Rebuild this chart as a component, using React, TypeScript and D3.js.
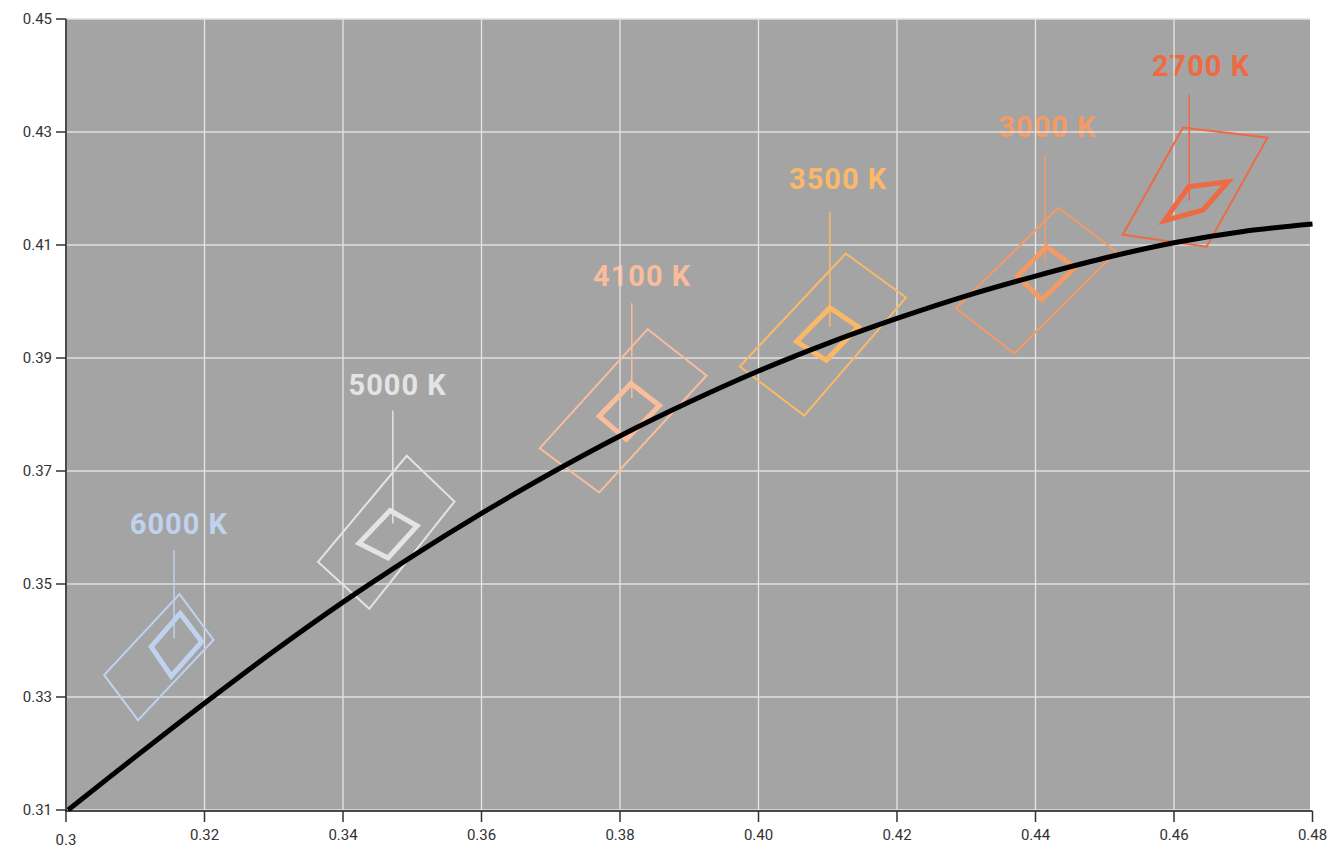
import React from 'react';
import * as d3 from 'd3';

// CCT bins (outer quadrangle + inner small quadrangle), CIE 1931 x/y
const cctLabels = ['6000 K', '5000 K', '4100 K', '3500 K', '3000 K', '2700 K'];
const cctColors = ['#bfd2ee', '#e4e4e4', '#f9bd9c', '#fbb968', '#f49a64', '#ee6a43'];

const outerQuads: [number, number][][] = [
    [[0.3164, 0.3482], [0.3213, 0.3401], [0.3104, 0.3259], [0.3055, 0.3339]],
    [[0.3492, 0.3727], [0.3561, 0.3646], [0.3438, 0.3456], [0.3364, 0.3539]],
    [[0.3840, 0.3951], [0.3925, 0.3869], [0.3770, 0.3662], [0.3684, 0.3740]],
    [[0.4126, 0.4085], [0.4213, 0.4007], [0.4066, 0.3798], [0.3973, 0.3885]],
    [[0.4433, 0.4166], [0.4517, 0.4088], [0.4369, 0.3908], [0.4285, 0.3988]],
    [[0.4613, 0.4308], [0.4735, 0.4290], [0.4647, 0.4097], [0.4526, 0.4118]],
];

const innerQuads: [number, number][][] = [
    [[0.3165, 0.3448], [0.3196, 0.3398], [0.3152, 0.3337], [0.3123, 0.3389]],
    [[0.3468, 0.3630], [0.3507, 0.3603], [0.3465, 0.3546], [0.3423, 0.3572]],
    [[0.3816, 0.3855], [0.3857, 0.3816], [0.3809, 0.3756], [0.3770, 0.3797]],
    [[0.4103, 0.3989], [0.4144, 0.3955], [0.4098, 0.3896], [0.4055, 0.3929]],
    [[0.4416, 0.4097], [0.4457, 0.4060], [0.4409, 0.4003], [0.4374, 0.4045]],
    [[0.4621, 0.4203], [0.4678, 0.4212], [0.4642, 0.4162], [0.4586, 0.4143]],
];

// leader line and label anchor points
const stemX = [0.3156, 0.3472, 0.3817, 0.4103, 0.4414, 0.4622];
const stemTop = [0.3560, 0.3807, 0.3997, 0.4159, 0.4258, 0.4366];
const stemBottom = [0.3404, 0.3607, 0.3829, 0.3955, 0.4070, 0.4178];
const labelX = [0.3163, 0.3479, 0.3832, 0.4115, 0.4417, 0.4639];
const labelY = [0.3588, 0.3835, 0.4027, 0.4199, 0.4292, 0.4399];

// black-body locus
const locusX = [0.3003, 0.31, 0.32, 0.33, 0.34, 0.35, 0.36, 0.37, 0.38, 0.39, 0.40, 0.41, 0.42, 0.43, 0.44, 0.45, 0.46, 0.47, 0.48];
const locusY = [0.3100, 0.3194, 0.3289, 0.3381, 0.3468, 0.3549, 0.3625, 0.3696, 0.3762, 0.3822, 0.3877, 0.3926, 0.3970, 0.4010, 0.4045, 0.4077, 0.4104, 0.4124, 0.4137];

const xTicks = [0.3, 0.32, 0.34, 0.36, 0.38, 0.40, 0.42, 0.44, 0.46, 0.48];
const xTickLabels = ['0.3', '0.32', '0.34', '0.36', '0.38', '0.40', '0.42', '0.44', '0.46', '0.48'];
const yTicks = [0.31, 0.33, 0.35, 0.37, 0.39, 0.41, 0.43, 0.45];
const yTickLabels = ['0.31', '0.33', '0.35', '0.37', '0.39', '0.41', '0.43', '0.45'];

const App: React.FC = () => {
    const width = 1330;
    const height = 849;
    const plotRight = 1310;

    const x = d3.scaleLinear().domain([0.3, 0.48]).range([66, 1312.5]);
    const y = d3.scaleLinear().domain([0.31, 0.45]).range([810, 19]);

    const quadPath = d3.line<[number, number]>()
        .x(d => x(d[0]))
        .y(d => y(d[1]));

    const locus = d3.line<number>()
        .x(d => x(d))
        .y((d, i) => y(locusY[i]))
        .curve(d3.curveCatmullRom.alpha(0.5));

    const tickFont = { fontFamily: 'Roboto, sans-serif', fontSize: 15, fill: '#333' };

    return (
        <svg width={width} height={height} style={{ position: 'absolute', left: 0, top: 0, background: '#fff' }}>
            <rect x={x(0.3)} y={y(0.45)} width={plotRight - x(0.3)} height={y(0.31) - y(0.45)} fill="#a4a4a4" />

            {/* labels sit under the grid */}
            {cctLabels.map((t, i) => (
                <text key={'lab' + i} x={x(labelX[i])} y={y(labelY[i])} textAnchor="middle"
                    fill={cctColors[i]} style={{ fontFamily: 'Roboto, sans-serif', fontWeight: 700, fontSize: 29, letterSpacing: 1 }}>
                    {t}
                </text>
            ))}

            {xTicks.filter(v => x(v) < plotRight - 2 && v > 0.3).map(v => (
                <line key={'gx' + v} x1={x(v)} x2={x(v)} y1={y(0.45)} y2={y(0.31)} stroke="#e6e6e6" strokeWidth={1.3} />
            ))}
            {yTicks.map(v => (
                <line key={'gy' + v} x1={x(0.3)} x2={plotRight} y1={y(v)} y2={y(v)} stroke="#e0e0e0" strokeWidth={1.3} />
            ))}

            {outerQuads.map((q, i) => (
                <path key={'oq' + i} d={quadPath(q)! + 'Z'} fill="none" stroke={cctColors[i]} strokeWidth={2} strokeLinejoin="miter" />
            ))}
            {innerQuads.map((q, i) => (
                <path key={'iq' + i} d={quadPath(q)! + 'Z'} fill="none" stroke={cctColors[i]} strokeWidth={5} strokeLinejoin="miter" />
            ))}
            {stemX.map((v, i) => (
                <line key={'st' + i} x1={x(v)} x2={x(v)} y1={y(stemTop[i])} y2={y(stemBottom[i])} stroke={cctColors[i]} strokeWidth={1.5} />
            ))}

            <path d={locus(locusX)!} fill="none" stroke="#000" strokeWidth={5} strokeLinecap="butt" />

            {/* y axis */}
            <line x1={x(0.3)} x2={x(0.3)} y1={y(0.45)} y2={y(0.31) + 2} stroke="#4a4a4a" strokeWidth={2} />
            {yTicks.map((v, i) => (
                <g key={'yt' + v}>
                    <line x1={x(0.3) - 10} x2={x(0.3)} y1={y(v)} y2={y(v)} stroke="#333" strokeWidth={1.5} />
                    <text x={x(0.3) - 14} y={y(v)} dy="0.36em" textAnchor="end" style={tickFont}>{yTickLabels[i]}</text>
                </g>
            ))}

            {/* x axis */}
            <line x1={x(0.3)} x2={x(0.48)} y1={y(0.31) + 1} y2={y(0.31) + 1} stroke="#111" strokeWidth={1.5} />
            {xTicks.map((v, i) => (
                <g key={'xt' + v}>
                    <line x1={x(v)} x2={x(v)} y1={y(0.31) + 1} y2={y(0.31) + 12} stroke="#333" strokeWidth={1.5} />
                    <text x={x(v)} y={i === 0 ? 845 : 840} textAnchor="middle" style={tickFont}>{xTickLabels[i]}</text>
                </g>
            ))}
        </svg>
    );
};

export default App;
